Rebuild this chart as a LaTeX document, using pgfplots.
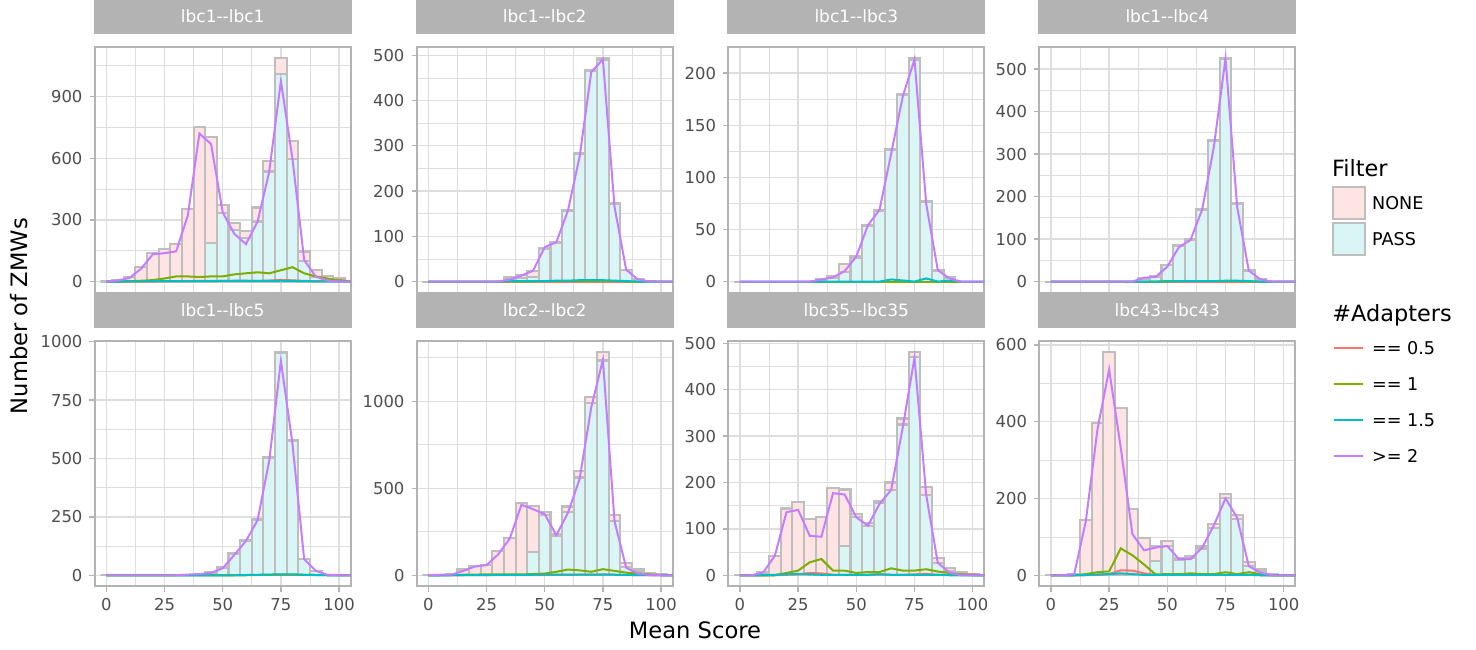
\documentclass[border=0pt]{standalone}
\usepackage{fontspec}
\setmainfont{DejaVu Sans}
\usepackage{pgfplots}
\usepackage{pgfplotstable}
\pgfplotsset{compat=1.18}
\definecolor{grey70}{HTML}{B3B3B3}
\definecolor{grey87}{HTML}{DEDEDE}
\definecolor{grey30}{HTML}{4D4D4D}
\definecolor{barline}{HTML}{BEBEBE}
\definecolor{nonefill}{HTML}{FEE4E2}
\definecolor{passfill}{HTML}{D9F5F6}
\definecolor{c05}{HTML}{F8766D}
\definecolor{c1}{HTML}{7CAE00}
\definecolor{c15}{HTML}{00BFC4}
\definecolor{c2}{HTML}{C77CFF}

% x = bin centre, T = total (NONE+PASS), P = PASS, a05..a2 = #Adapters groups
\pgfplotstableread{
x T P a05 a1 a15 a2
0 0 0 0 0 0 0
5 8 0 0 0 0 5
10 21 0 0 2 1 18
15 70 0 0 4 1 63
20 141 0 0 7 2 133
25 160 0 1 15 2 138
30 182 0 2 25 2 147
35 352 0 2 25 2 321
40 750 0 3 22 2 720
45 703 186 3 25 2 669
50 373 335 3 25 3 337
55 284 250 4 35 3 232
60 246 210 4 40 3 182
65 360 292 3 45 3 292
70 588 535 5 40 3 535
75 1086 1008 8 55 4 975
80 684 595 6 70 3 595
85 146 102 3 40 2 105
90 57 24 2 25 1 24
95 29 10 4 15 1 5
100 19 8 8 5 0 0
105 0 0 0 0 0 0
}\tA
\pgfplotstableread{
x T P a05 a1 a15 a2
0 0 0 0 0 0 0
5 0 0 0 0 0 0
10 0 0 0 0 0 0
15 0 0 0 0 0 0
20 0 0 0 0 0 0
25 0 0 0 0 0 0
30 0 0 0 0 0 0
35 9 5 0 0 1 4
40 15 8 0 0 1 13
45 24 11 0 0 1 24
50 74 72 0 1 1 76
55 87 85 0 1 2 87
60 158 156 0 1 2 157
65 285 283 0 1 3 276
70 467 465 0 1 3 463
75 493 490 0 1 3 491
80 174 172 0 1 2 165
85 26 25 0 0 1 26
90 6 5 0 0 0 5
95 1 1 0 0 0 0
100 0 0 0 0 0 0
105 0 0 0 0 0 0
}\tB
\pgfplotstableread{
x T P a05 a1 a15 a2
0 0 0 0 0 0 0
5 0 0 0 0 0 0
10 0 0 0 0 0 0
15 0 0 0 0 0 0
20 0 0 0 0 0 0
25 0 0 0 0 0 0
30 0 0 0 0 0 0
35 2 1 0 0 0 2
40 5 3 0 0 0 4
45 17 9 0 0 0 10
50 24 23 0 0 0 24
55 54 53 0 0 0 54
60 69 68 0 0 0 69
65 127 126 0 0 2 123
70 180 179 0 0 1 178
75 214 213 0 0 0 213
80 77 76 0 0 3 75
85 11 10 0 0 0 11
90 4 3 0 0 1 3
95 0 0 0 0 0 0
100 0 0 0 0 0 0
105 0 0 0 0 0 0
}\tC
\pgfplotstableread{
x T P a05 a1 a15 a2
0 0 0 0 0 0 0
5 0 0 0 0 0 0
10 0 0 0 0 0 0
15 0 0 0 0 0 0
20 0 0 0 0 0 0
25 0 0 0 0 0 0
30 0 0 0 0 0 0
35 0 0 0 0 0 0
40 9 7 0 0 0 9
45 12 10 0 0 0 11
50 40 38 0 1 0 35
55 85 83 0 1 1 81
60 100 98 0 1 1 98
65 170 168 0 1 1 170
70 334 332 0 1 1 317
75 525 523 0 1 2 525
80 184 182 0 1 2 176
85 26 25 0 0 1 26
90 6 5 0 0 0 5
95 0 0 0 0 0 0
100 0 0 0 0 0 0
105 0 0 0 0 0 0
}\tD
\pgfplotstableread{
x T P a05 a1 a15 a2
0 0 0 0 0 0 0
5 0 0 0 0 0 0
10 0 0 0 0 0 0
15 0 0 0 0 0 0
20 0 0 0 0 0 0
25 0 0 0 0 0 0
30 0 0 0 0 0 0
35 2 1 0 0 0 3
40 5 4 0 0 0 5
45 14 12 0 0 0 10
50 33 31 0 0 0 30
55 93 91 0 0 0 87
60 150 148 0 0 1 147
65 239 237 0 1 2 236
70 504 502 0 2 3 490
75 957 953 0 3 4 918
80 579 577 0 3 4 561
85 71 70 0 2 2 69
90 19 18 0 1 1 19
95 2 2 0 0 0 2
100 0 0 0 0 0 0
105 0 0 0 0 0 0
}\tE
\pgfplotstableread{
x T P a05 a1 a15 a2
0 0 0 0 0 0 0
5 3 0 0 0 0 3
10 5 0 0 2 0 3
15 33 0 0 3 1 25
20 54 0 1 4 1 50
25 58 0 1 5 1 58
30 140 0 1 5 2 120
35 213 0 1 5 2 211
40 415 0 1 5 2 405
45 397 132 1 7 3 380
50 365 345 1 10 3 351
55 236 225 2 20 3 230
60 395 361 2 33 3 359
65 599 562 3 28 3 553
70 1023 990 3 20 3 965
75 1282 1234 5 35 4 1238
80 345 311 3 25 3 310
85 69 50 2 15 2 44
90 33 21 1 10 1 10
95 13 8 0 5 1 2
100 5 3 0 2 0 0
105 0 0 0 0 0 0
}\tF
\pgfplotstableread{
x T P a05 a1 a15 a2
0 0 0 0 0 0 0
5 1 0 0 0 0 0
10 6 0 0 0 0 6
15 42 0 0 0 1 42
20 144 0 1 5 2 136
25 157 0 2 10 3 141
30 122 0 5 28 2 85
35 125 0 4 35 1 83
40 188 0 1 10 1 177
45 185 63 1 10 1 174
50 132 125 1 5 1 125
55 112 107 1 7 1 107
60 161 156 2 7 2 154
65 200 184 1 15 1 184
70 338 325 1 10 1 320
75 481 470 2 10 1 469
80 191 174 3 13 1 174
85 38 27 1 8 1 27
90 16 9 1 5 0 6
95 6 3 2 2 0 0
100 3 1 2 0 0 0
105 0 0 0 0 0 0
}\tG
\pgfplotstableread{
x T P a05 a1 a15 a2
0 0 0 0 0 0 0
5 0 0 0 0 0 0
10 2 0 0 0 0 3
15 144 0 0 3 1 141
20 397 0 1 8 2 380
25 581 0 3 10 3 536
30 436 0 13 70 5 332
35 173 0 12 52 3 107
40 96 0 5 28 1 65
45 75 36 1 2 1 72
50 89 76 1 3 1 76
55 44 39 1 3 1 42
60 51 44 1 5 1 42
65 75 68 1 3 1 72
70 134 124 1 3 1 130
75 211 202 1 8 1 200
80 157 146 1 3 1 150
85 34 24 1 8 1 24
90 16 10 0 3 0 7
95 3 2 0 0 0 0
100 0 0 0 0 0 0
105 0 0 0 0 0 0
}\tH

\pgfplotsset{
  panel/.style={
    scale only axis, width=128pt, height=122.7pt, anchor=north west,
    xmin=-5, xmax=105, xtick={0,25,50,75,100}, minor xtick={12.5,37.5,62.5,87.5},
    grid=both,
    major grid style={draw=grey87, line width=0.65pt},
    minor grid style={draw=grey87, line width=0.33pt},
    axis line style={draw=grey70, line width=1pt},
    tick style={draw=grey70, line width=0.65pt},
    tick align=outside, major tick length=2.6pt, minor tick length=0pt,
    tick pos=left,
    ticklabel style={font=\fontsize{8.2}{9}\selectfont, text=grey30},
    /pgf/number format/assume math mode=true, /pgf/number format/1000 sep={},
    title style={at={(0.5,1)}, anchor=south, yshift=0.5pt, fill=grey70, text=white,
      minimum width=129pt, minimum height=17.3pt, inner sep=0pt,
      font=\fontsize{8.5}{10}\selectfont},
  },
  toprow/.style={xticklabels={}, every major x tick/.append style={draw=none}},
  bars/.style={ybar, bar width=5, bar shift=0pt, draw=barline, line width=1.05pt,
    restrict x to domain=0:100},
  ln/.style={line width=1pt, no marks, sharp plot},
}

\newcommand{\panel}[9]{%
\begin{axis}[panel, at={(#2pt,#3pt)}, title={#4}, ymin=#5, ymax=#6, ytick={#7}, minor ytick={#8}, #9]
\addplot[bars, fill=nonefill] table[x=x,y=T]{#1};
\addplot[bars, fill=passfill] table[x=x,y=P]{#1};
\addplot[ln, c05] table[x=x,y=a05]{#1};
\addplot[ln, c1] table[x=x,y=a1]{#1};
\addplot[ln, c15] table[x=x,y=a15]{#1};
\addplot[ln, c2] table[x=x,y=a2]{#1};
\end{axis}}

\begin{document}
\begin{tikzpicture}
\path[use as bounding box] (0,0) rectangle (738pt,-324.5pt);

\panel{\tA}{47.35}{-23.65}{lbc1-{}-lbc1}{-54.3}{1139.3}{0,300,600,900}{150,450,750,1050}{toprow}
\panel{\tB}{208.35}{-23.65}{lbc1-{}-lbc2}{-24.65}{517.65}{0,100,...,500}{50,150,...,450}{toprow}
\panel{\tC}{364.15}{-23.65}{lbc1-{}-lbc3}{-10.7}{224.7}{0,50,...,200}{25,75,...,175}{toprow}
\panel{\tD}{519.65}{-23.65}{lbc1-{}-lbc4}{-26.25}{551.25}{0,100,...,500}{50,150,...,450}{toprow}

\panel{\tE}{47.35}{-170.5}{lbc1-{}-lbc5}{-47.75}{1002.75}{0,250,...,1000}{125,375,...,875}{}
\panel{\tF}{208.35}{-170.5}{lbc2-{}-lbc2}{-64.1}{1346.1}{0,500,1000}{250,750,1250}{}
\panel{\tG}{364.15}{-170.5}{lbc35-{}-lbc35}{-24.05}{505.05}{0,100,...,500}{50,150,...,450}{}
\panel{\tH}{519.65}{-170.5}{lbc43-{}-lbc43}{-29.05}{610.05}{0,200,...,600}{100,300,500}{}

% axis titles
\node[font=\fontsize{11.3}{13}\selectfont] at (347.5pt,-315pt) {Mean Score};
\node[font=\fontsize{11.3}{13}\selectfont, rotate=90] at (9.5pt,-158pt) {Number of ZMWs};

% legend: Filter
\node[anchor=base west, inner sep=0pt, font=\fontsize{11.2}{13}\selectfont] at (665.85pt,-88pt) {Filter};
\filldraw[fill=nonefill, draw=barline, line width=1pt] (666.3pt,-93.3pt) rectangle (682.6pt,-109.4pt);
\filldraw[fill=passfill, draw=barline, line width=1pt] (666.3pt,-111.3pt) rectangle (682.6pt,-127.4pt);
\node[anchor=west, inner sep=0pt, font=\fontsize{8.8}{10}\selectfont] at (685.85pt,-101.3pt) {NONE};
\node[anchor=west, inner sep=0pt, font=\fontsize{8.8}{10}\selectfont] at (685.85pt,-119.5pt) {PASS};

% legend: #Adapters
\node[anchor=base west, inner sep=0pt, font=\fontsize{11.2}{13}\selectfont] at (666pt,-160.85pt) {\#Adapters};
\draw[c05, line width=1pt] (667pt,-174.15pt) -- (681.65pt,-174.15pt);
\draw[c1, line width=1pt] (667pt,-192.15pt) -- (681.65pt,-192.15pt);
\draw[c15, line width=1pt] (667pt,-210pt) -- (681.65pt,-210pt);
\draw[c2, line width=1pt] (667pt,-228pt) -- (681.65pt,-228pt);
\node[anchor=west, inner sep=0pt, font=\fontsize{8.8}{10}\selectfont] at (685.85pt,-174.15pt) {== 0.5};
\node[anchor=west, inner sep=0pt, font=\fontsize{8.8}{10}\selectfont] at (685.85pt,-192.15pt) {== 1};
\node[anchor=west, inner sep=0pt, font=\fontsize{8.8}{10}\selectfont] at (685.85pt,-210pt) {== 1.5};
\node[anchor=west, inner sep=0pt, font=\fontsize{8.8}{10}\selectfont] at (685.85pt,-228pt) {>= 2};
\end{tikzpicture}
\end{document}
